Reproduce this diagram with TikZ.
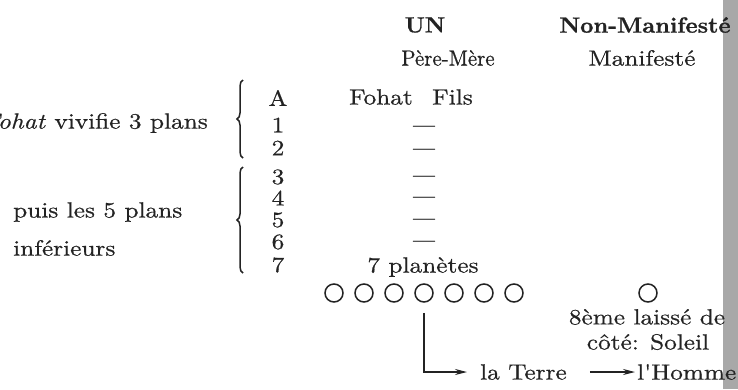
\documentclass[tikz,border=0pt]{standalone}
\usepackage{graphicx}
\usepackage{fontspec}
\setmainfont{lmroman10-regular.otf}[BoldFont=lmroman10-bold.otf, ItalicFont=lmroman10-italic.otf, BoldItalicFont=lmroman10-bolditalic.otf]
\newfontfamily\inkfont{lmroman10-regular.otf}[FakeBold=0.6, ItalicFont=lmroman10-italic.otf]
\newfontfamily\headfont{lmroman10-bold.otf}[FakeBold=0.9]
\usetikzlibrary{arrows.meta,decorations.pathreplacing}
\definecolor{ink}{RGB}{35,35,35}
\definecolor{strip}{RGB}{168,168,168}
\newcommand{\hs}[2][1.15]{\scalebox{#1}[1]{#2}}
\tikzset{
  txt/.style={inner sep=0pt, text=ink, font=\fontsize{22}{24}\inkfont},
  hd/.style={inner sep=0pt, text=ink, font=\fontsize{22}{24}\headfont},
  planet/.style={circle, draw=ink, line width=1.5pt, minimum size=18pt, inner sep=0pt},
  arr/.style={draw=ink, line width=1.2pt, -{Stealth[length=12pt,width=6pt]}},
  brc/.style={draw=ink, line width=1.5pt, decorate, decoration={brace, amplitude=6pt}}
}
\begin{document}
\begin{tikzpicture}[x=1pt,y=-1pt]
\useasboundingbox (0,0) rectangle (738,389);
\fill[strip] (723,0) rectangle (738,389);
% headers
\node[hd] (un) at (425,25) {\hs[1.03]{UN}};
\node[hd] (nonman) at (645,25) {\hs[1.05]{Non-Manifesté}};
\node[txt] (pere) at (448,58) {\hs[0.95]{Père-Mère}};
\node[txt] (manif) at (642,58) {\hs{Manifesté}};
\node[txt, anchor=east] (fohat) at (413,97) {\hs{Fohat}};
\node[txt, anchor=west] (fils) at (432,97) {\hs{Fils}};
% left texts
\node[txt, anchor=east] (viv) at (208,123) {\hs{\textit{Fohat} vivifie 3 plans}};
\node[txt, anchor=west] (puis) at (13,212) {\hs{puis les 5 plans}};
\node[txt, anchor=west] (inf) at (13,248) {\hs{inférieurs}};
% braces
\draw[brc] (243,158) -- (243,80);
\draw[brc] (243,273) -- (243,167);
% row labels
\node[txt] (rA) at (278,98) {\hs{A}};
\node[txt] (r1) at (278,125) {\hs{1}};
\node[txt] (r2) at (278,148) {\hs{2}};
\node[txt] (r3) at (278,177) {\hs{3}};
\node[txt] (r4) at (278,198) {\hs{4}};
\node[txt] (r5) at (278,220) {\hs{5}};
\node[txt] (r6) at (278,242) {\hs{6}};
\node[txt] (r7) at (278,265) {\hs{7}};
% dashes
\node[txt] (d1) at (424,129) {\hs[1.0]{—}};
\node[txt] (d2) at (424,152) {\hs[1.0]{—}};
\node[txt] (d3) at (424,179) {\hs[1.0]{—}};
\node[txt] (d4) at (424,200) {\hs[1.0]{—}};
\node[txt] (d5) at (424,222) {\hs[1.0]{—}};
\node[txt] (d6) at (424,244) {\hs[1.0]{—}};
\node[txt] (pl) at (423,267) {\hs{7 planètes}};
% planets
\node[planet] (c1) at (334,293) {};
\node[planet] (c2) at (364,293) {};
\node[planet] (c3) at (394,293) {};
\node[planet] (c4) at (424,293) {};
\node[planet] (c5) at (454,293) {};
\node[planet] (c6) at (484,293) {};
\node[planet] (c7) at (514,293) {};
\node[planet] (c8) at (648,293) {};
\node[txt] (hui) at (647,317) {\hs{8ème laissé de}};
\node[txt] (cote) at (648,342) {\hs{côté: Soleil}};
% bottom
\node[txt, anchor=west] (terre) at (480,372) {\hs{la Terre}};
\node[txt, anchor=west] (homme) at (637,372) {\hs{l'Homme}};
\draw[arr] ([yshift=-10pt]c4.south) |- ([xshift=-13pt]terre.west);
\draw[arr] ([xshift=23pt]terre.east) -- ([xshift=-2pt]homme.west);
\end{tikzpicture}
\end{document}
